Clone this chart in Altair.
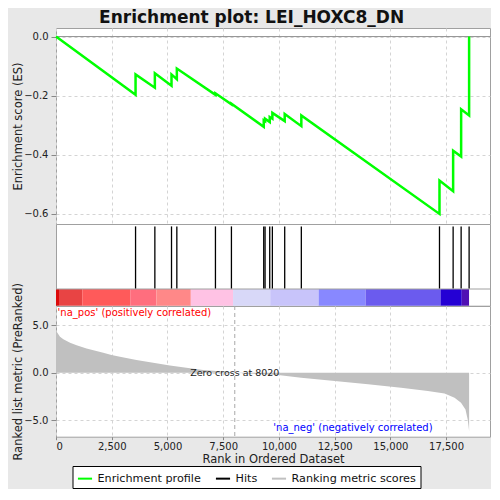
import altair as alt
import pandas as pd

# ---- data ----
hit_ranks = [3569, 4435, 5182, 5421, 7153, 7870, 9319, 9379, 9588, 9707,
             10260, 11006, 17204, 17816, 18175, 18533]

es_ranks = [0, 3569, 3569, 4435, 4435, 5182, 5182, 5421, 5421, 7153, 7153,
            7870, 7870, 9319, 9319, 9379, 9379, 9588, 9588, 9707, 9707,
            10260, 10260, 11006, 11006, 17204, 17204, 17816, 17816,
            18175, 18175, 18533, 18533]
es_values = [0.0, -0.197, -0.128, -0.173, -0.124, -0.166, -0.128, -0.144, -0.108,
             -0.197, -0.192, -0.229, -0.227, -0.305, -0.283, -0.286, -0.278,
             -0.289, -0.272, -0.278, -0.258, -0.286, -0.262, -0.303, -0.267,
             -0.600, -0.487, -0.523, -0.386, -0.406, -0.246, -0.267, 0.0]

metric_ranks = [0, 30, 180, 330, 630, 925, 1370, 2120, 2490, 2870, 3610, 4360,
                5110, 5850, 6600, 7795, 8020, 9960, 11000, 12500, 14000, 15480,
                16680, 17430, 17880, 18170, 18370, 18470, 18533]
metric_values = [4.45, 4.3, 3.78, 3.5, 3.15, 2.87, 2.55, 2.1, 1.85, 1.68, 1.33,
                 1.05, 0.77, 0.52, 0.28, 0.07, 0.0, -0.24, -0.52, -0.87, -1.22,
                 -1.57, -1.92, -2.17, -2.62, -3.15, -3.85, -4.9, -6.1]

bar_starts = [0, 134, 1178, 3329, 4507, 6048, 7944, 9610, 11783, 13889, 17249, 18203]
bar_ends = [134, 1178, 3329, 4507, 6048, 7944, 9610, 11783, 13889, 17249, 18203, 18530]
bar_colors = ["#dc0a0a", "#e84444", "#ff5a5a", "#ff6e7e", "#ff8888", "#ffc2e4",
              "#d8d8f8", "#c8c4fa", "#8888ff", "#6b5bee", "#2400d4", "#5010b4"]

zero_cross = 8020
x_ticks = [0, 2500, 5000, 7500, 10000, 12500, 15000, 17500]
es_ticks = [-0.6, -0.5, -0.4, -0.3, -0.2, -0.1, 0.0]
metric_ticks = [-5.0, -2.5, 0.0, 2.5, 5.0]
legend_items = ["Enrichment profile", "Hits", "Ranking metric scores"]
legend_colors = ["#00ff00", "#000000", "#c0c0c0"]

# ---- chart ----
XMAX = 19470
W = 434
FONT = "DejaVu Sans"
GRID = "#d4d4d4"

xs = alt.Scale(domain=[0, XMAX], nice=False, zero=False)

es_df = pd.DataFrame({"rank": es_ranks, "es": es_values, "i": list(range(len(es_ranks)))})
top_line = alt.Chart(es_df).mark_line(color="#00ff00", strokeWidth=2.5).encode(
    x=alt.X("rank:Q", scale=xs,
            axis=alt.Axis(values=x_ticks, labels=False, ticks=False, domain=False,
                          title=None, grid=True, gridDash=[3, 3], gridColor=GRID)),
    y=alt.Y("es:Q", scale=alt.Scale(domain=[-0.634, 0.029], nice=False, zero=False),
            axis=alt.Axis(values=es_ticks, format=".1f", title="Enrichment score (ES)",
                          grid=True, gridDash=[3, 3], gridColor=GRID, domain=False)),
    order=alt.Order("i:Q"),
)
zero_rule = alt.Chart(pd.DataFrame({"y": [0.0]})).mark_rule(color="#909090", strokeWidth=1).encode(
    y=alt.Y("y:Q"))
top = alt.layer(zero_rule, top_line).properties(width=W, height=196)

hits_df = pd.DataFrame({"rank": hit_ranks})
hits = alt.Chart(hits_df).mark_rule(color="black", strokeWidth=1.3).encode(
    x=alt.X("rank:Q", scale=xs, axis=None),
    y=alt.value(2.4), y2=alt.value(64.8))
bar_df = pd.DataFrame({"start": bar_starts, "end": bar_ends, "col": bar_colors})
bars = alt.Chart(bar_df).mark_rect().encode(
    x=alt.X("start:Q", scale=xs, axis=None), x2="end:Q",
    y=alt.value(65), y2=alt.value(81.7),
    color=alt.Color("col:N", scale=None))
sep = alt.Chart(pd.DataFrame({"a": [0]})).mark_rule(color="#a0a0a0").encode(
    x=alt.value(0), x2=alt.value(W), y=alt.value(65))
mid = alt.layer(hits, bars, sep).properties(width=W, height=81.7)

met_df = pd.DataFrame({"rank": metric_ranks, "metric": metric_values})
area = alt.Chart(met_df).mark_area(color="#c0c0c0", interpolate="linear").encode(
    x=alt.X("rank:Q", scale=xs,
            axis=alt.Axis(values=x_ticks, format=",d", title="Rank in Ordered Dataset",
                          grid=True, gridDash=[3, 3], gridColor=GRID, domain=False,
                          tickSize=3, labelPadding=2, titlePadding=2)),
    y=alt.Y("metric:Q", scale=alt.Scale(domain=[-6.71, 7.0], nice=False, zero=False),
            axis=alt.Axis(values=metric_ticks, format=".1f",
                          title="Ranked list metric (PreRanked)",
                          grid=True, gridDash=[3, 3], gridColor=GRID, domain=False)),
    y2=alt.datum(0),
)
zc_df = pd.DataFrame({"x": [zero_cross], "y": [0.0], "label": [f"Zero cross at {zero_cross}"]})
zc_rule = alt.Chart(zc_df).mark_rule(color="#a8a8a8", strokeDash=[4, 3]).encode(x="x:Q")
zc_text = alt.Chart(zc_df).mark_text(fontSize=9.5, color="#222222", font=FONT).encode(
    x="x:Q", y="y:Q", text="label:N")
note_df = pd.DataFrame({"pos": ["'na_pos' (positively correlated)"],
                        "neg": ["'na_neg' (negatively correlated)"]})
pos_text = alt.Chart(note_df).mark_text(align="left", baseline="middle", fontSize=10,
                                        color="#ff0000", font=FONT).encode(
    x=alt.value(1.6), y=alt.value(6.7), text="pos:N")
neg_text = alt.Chart(note_df).mark_text(align="left", baseline="middle", fontSize=10,
                                        color="#0000ff", font=FONT).encode(
    x=alt.value(217.3), y=alt.value(122.3), text="neg:N")
leg_df = pd.DataFrame({"item": legend_items, "rank": [-1, -1, -1]})
leg = alt.Chart(leg_df).transform_filter("datum.rank >= 0").mark_point().encode(
    x=alt.X("rank:Q", scale=xs),
    color=alt.Color("item:N",
                    scale=alt.Scale(domain=legend_items, range=legend_colors),
                    legend=alt.Legend(title=None, orient="none", legendX=16.5, legendY=160,
                                      direction="horizontal", symbolType="stroke",
                                      symbolStrokeWidth=2, symbolSize=200,
                                      labelFontSize=11.2, labelFont=FONT, labelColor="#111",
                                      strokeColor="#000000", fillColor="#ffffff",
                                      padding=4, columnPadding=10, symbolOpacity=1)))
bottom = alt.layer(area, zc_rule, zc_text, pos_text, neg_text, leg).properties(
    width=W, height=130.7)

chart = alt.vconcat(top, mid, bottom, spacing=0, bounds="flush").resolve_scale(
    color="independent"
).properties(
    title=alt.TitleParams("Enrichment plot: LEI_HOXC8_DN", fontSize=17, font=FONT,
                          fontWeight="bold", anchor="middle", color="#111", offset=1,
                          frame="bounds"),
    background="#e8e8e8",
    padding={"left": 4, "top": 0, "right": 0, "bottom": 0},
).configure_view(stroke="#a0a0a0", fill="white").configure_axis(
    labelFont=FONT, titleFont=FONT, labelFontSize=10, titleFontSize=11.5,
    titleFontWeight="normal", labelColor="#222", titleColor="#222",
    tickColor="#888", tickSize=5, labelPadding=3, titlePadding=0,
)

chart.save("out.html", embed_options={"renderer": "svg", "actions": False})
